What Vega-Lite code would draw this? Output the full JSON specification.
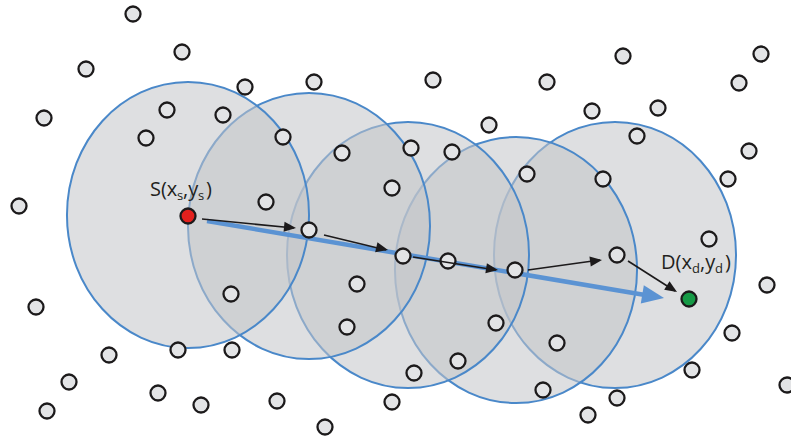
{
  "$schema": "https://vega.github.io/schema/vega-lite/v6.json",
  "autosize": "none",
  "width": 791,
  "height": 439,
  "padding": 0,
  "background": "white",
  "config": {"view": {"stroke": null}},
  "datasets": {
    "ranges": [
      {"id": 5, "x": 615, "y": 255},
      {"id": 4, "x": 516, "y": 270},
      {"id": 3, "x": 408, "y": 255},
      {"id": 2, "x": 309, "y": 226},
      {"id": 1, "x": 188, "y": 215}
    ],
    "arrows": [
      {"kind": "direct", "x": 207, "y": 221, "x2": 648, "y2": 295.5, "tx": 664, "ty": 298},
      {"kind": "hop", "x": 202, "y": 219, "x2": 294, "y2": 228, "tx": 296, "ty": 228},
      {"kind": "hop", "x": 324, "y": 235, "x2": 386, "y2": 250, "tx": 388, "ty": 250},
      {"kind": "hop", "x": 413, "y": 257, "x2": 496, "y2": 270, "tx": 498, "ty": 270},
      {"kind": "hop", "x": 528, "y": 270, "x2": 600, "y2": 260, "tx": 602, "ty": 260},
      {"kind": "hop", "x": 628, "y": 261, "x2": 675, "y2": 291, "tx": 677, "ty": 292}
    ],
    "nodes": [
      {"x": 133, "y": 14, "kind": "node"}, {"x": 182, "y": 52, "kind": "node"}, {"x": 86, "y": 69, "kind": "node"},
      {"x": 245, "y": 87, "kind": "node"}, {"x": 314, "y": 82, "kind": "node"}, {"x": 44, "y": 118, "kind": "node"},
      {"x": 167, "y": 110, "kind": "node"}, {"x": 223, "y": 115, "kind": "node"}, {"x": 146, "y": 138, "kind": "node"},
      {"x": 283, "y": 137, "kind": "node"}, {"x": 342, "y": 153, "kind": "node"}, {"x": 19, "y": 206, "kind": "node"},
      {"x": 266, "y": 202, "kind": "node"}, {"x": 392, "y": 188, "kind": "node"},
      {"x": 433, "y": 80, "kind": "node"}, {"x": 547, "y": 82, "kind": "node"}, {"x": 623, "y": 56, "kind": "node"},
      {"x": 761, "y": 54, "kind": "node"}, {"x": 739, "y": 83, "kind": "node"}, {"x": 592, "y": 111, "kind": "node"},
      {"x": 658, "y": 108, "kind": "node"}, {"x": 489, "y": 125, "kind": "node"}, {"x": 637, "y": 136, "kind": "node"},
      {"x": 411, "y": 148, "kind": "node"}, {"x": 452, "y": 152, "kind": "node"}, {"x": 527, "y": 174, "kind": "node"},
      {"x": 603, "y": 179, "kind": "node"}, {"x": 749, "y": 151, "kind": "node"}, {"x": 728, "y": 179, "kind": "node"},
      {"x": 309, "y": 230, "kind": "node"}, {"x": 231, "y": 294, "kind": "node"}, {"x": 36, "y": 307, "kind": "node"},
      {"x": 357, "y": 284, "kind": "node"}, {"x": 347, "y": 327, "kind": "node"}, {"x": 109, "y": 355, "kind": "node"},
      {"x": 178, "y": 350, "kind": "node"}, {"x": 232, "y": 350, "kind": "node"}, {"x": 69, "y": 382, "kind": "node"},
      {"x": 47, "y": 411, "kind": "node"}, {"x": 158, "y": 393, "kind": "node"}, {"x": 201, "y": 405, "kind": "node"},
      {"x": 277, "y": 401, "kind": "node"}, {"x": 325, "y": 427, "kind": "node"}, {"x": 392, "y": 402, "kind": "node"},
      {"x": 403, "y": 256, "kind": "node"}, {"x": 448, "y": 261, "kind": "node"}, {"x": 515, "y": 270, "kind": "node"},
      {"x": 617, "y": 255, "kind": "node"}, {"x": 709, "y": 239, "kind": "node"}, {"x": 767, "y": 285, "kind": "node"},
      {"x": 496, "y": 323, "kind": "node"}, {"x": 557, "y": 343, "kind": "node"}, {"x": 732, "y": 333, "kind": "node"},
      {"x": 458, "y": 361, "kind": "node"}, {"x": 414, "y": 373, "kind": "node"}, {"x": 692, "y": 370, "kind": "node"},
      {"x": 543, "y": 390, "kind": "node"}, {"x": 617, "y": 398, "kind": "node"}, {"x": 588, "y": 415, "kind": "node"},
      {"x": 787, "y": 385, "kind": "node"},
      {"x": 188, "y": 216, "kind": "source"},
      {"x": 689, "y": 299, "kind": "destination"}
    ],
    "labels": [
      {"t": "S(x", "x": 150, "y": 196, "part": "main"},
      {"t": "s", "x": 177, "y": 200, "part": "sub"},
      {"t": ",y", "x": 183, "y": 196, "part": "main"},
      {"t": "s", "x": 198, "y": 200, "part": "sub"},
      {"t": ")", "x": 206, "y": 196, "part": "main"},
      {"t": "D(x", "x": 661, "y": 269, "part": "main"},
      {"t": "d", "x": 692, "y": 273, "part": "sub"},
      {"t": ",y", "x": 700, "y": 269, "part": "main"},
      {"t": "d", "x": 715, "y": 273, "part": "sub"},
      {"t": ")", "x": 725, "y": 269, "part": "main"}
    ]
  },
  "encoding": {
    "x": {"field": "x", "type": "quantitative", "scale": {"domain": [0, 791], "nice": false, "zero": false}, "axis": null},
    "y": {"field": "y", "type": "quantitative", "scale": {"domain": [0, 439], "nice": false, "zero": false, "reverse": true}, "axis": null}
  },
  "layer": [
    {
      "data": {"name": "ranges"},
      "mark": {
        "type": "point",
        "filled": false,
        "shape": "M -0.91 0 A 0.91 1 0 1 1 0.91 0 A 0.91 1 0 1 1 -0.91 0 Z",
        "size": 70756,
        "fill": "#c3c5c9",
        "fillOpacity": 0.55,
        "stroke": "#4a88c9",
        "strokeWidth": 2,
        "opacity": 1
      }
    },
    {
      "data": {"name": "arrows"},
      "transform": [{"filter": "datum.kind === 'direct'"}],
      "mark": {"type": "rule", "strokeCap": "butt", "color": "#5b93d3", "strokeWidth": 4.5},
      "encoding": {"x2": {"field": "x2"}, "y2": {"field": "y2"}}
    },
    {
      "data": {"name": "nodes"},
      "transform": [{"filter": "datum.kind === 'node'"}],
      "mark": {"type": "point", "shape": "circle", "filled": true, "size": 225, "fill": "#e3e4e6", "stroke": "#1c1a1b", "strokeWidth": 2.3, "opacity": 1}
    },
    {
      "data": {"name": "nodes"},
      "transform": [{"filter": "datum.kind === 'source'"}],
      "mark": {"type": "point", "shape": "circle", "filled": true, "size": 225, "fill": "#e3201d", "stroke": "#1c1a1b", "strokeWidth": 2.3, "opacity": 1}
    },
    {
      "data": {"name": "nodes"},
      "transform": [{"filter": "datum.kind === 'destination'"}],
      "mark": {"type": "point", "shape": "circle", "filled": true, "size": 225, "fill": "#169a46", "stroke": "#1c1a1b", "strokeWidth": 2.3, "opacity": 1}
    },
    {
      "data": {"name": "arrows"},
      "transform": [{"filter": "datum.kind === 'hop'"}],
      "mark": {"type": "rule", "strokeCap": "butt", "color": "#1c1a1b", "strokeWidth": 1.6},
      "encoding": {"x2": {"field": "x2"}, "y2": {"field": "y2"}}
    },
    {
      "data": {"name": "arrows"},
      "transform": [
        {"filter": "datum.kind === 'direct'"},
        {"calculate": "atan2(datum.ty - datum.y, datum.tx - datum.x) * 180 / PI", "as": "ang"}
      ],
      "mark": {"type": "point", "filled": true, "shape": "M 0 0 L -1 -0.42 L -1 0.42 Z", "opacity": 1, "strokeWidth": 0, "fill": "#5b93d3", "size": 1936},
      "encoding": {
        "x": {"field": "tx", "type": "quantitative"},
        "y": {"field": "ty", "type": "quantitative"},
        "angle": {"field": "ang", "type": "quantitative", "scale": null}
      }
    },
    {
      "data": {"name": "arrows"},
      "transform": [
        {"filter": "datum.kind === 'hop'"},
        {"calculate": "atan2(datum.ty - datum.y, datum.tx - datum.x) * 180 / PI", "as": "ang"}
      ],
      "mark": {"type": "point", "filled": true, "shape": "M 0 0 L -1 -0.42 L -1 0.42 Z", "opacity": 1, "strokeWidth": 0, "fill": "#1c1a1b", "size": 576},
      "encoding": {
        "x": {"field": "tx", "type": "quantitative"},
        "y": {"field": "ty", "type": "quantitative"},
        "angle": {"field": "ang", "type": "quantitative", "scale": null}
      }
    },
    {
      "data": {"name": "labels"},
      "transform": [{"filter": "datum.part === 'main'"}],
      "mark": {"type": "text", "align": "left", "baseline": "alphabetic", "font": "Open Sans", "color": "#231f20", "fontSize": 20},
      "encoding": {"text": {"field": "t"}}
    },
    {
      "data": {"name": "labels"},
      "transform": [{"filter": "datum.part === 'sub'"}],
      "mark": {"type": "text", "align": "left", "baseline": "alphabetic", "font": "Open Sans", "color": "#231f20", "fontSize": 13},
      "encoding": {"text": {"field": "t"}}
    }
  ]
}
